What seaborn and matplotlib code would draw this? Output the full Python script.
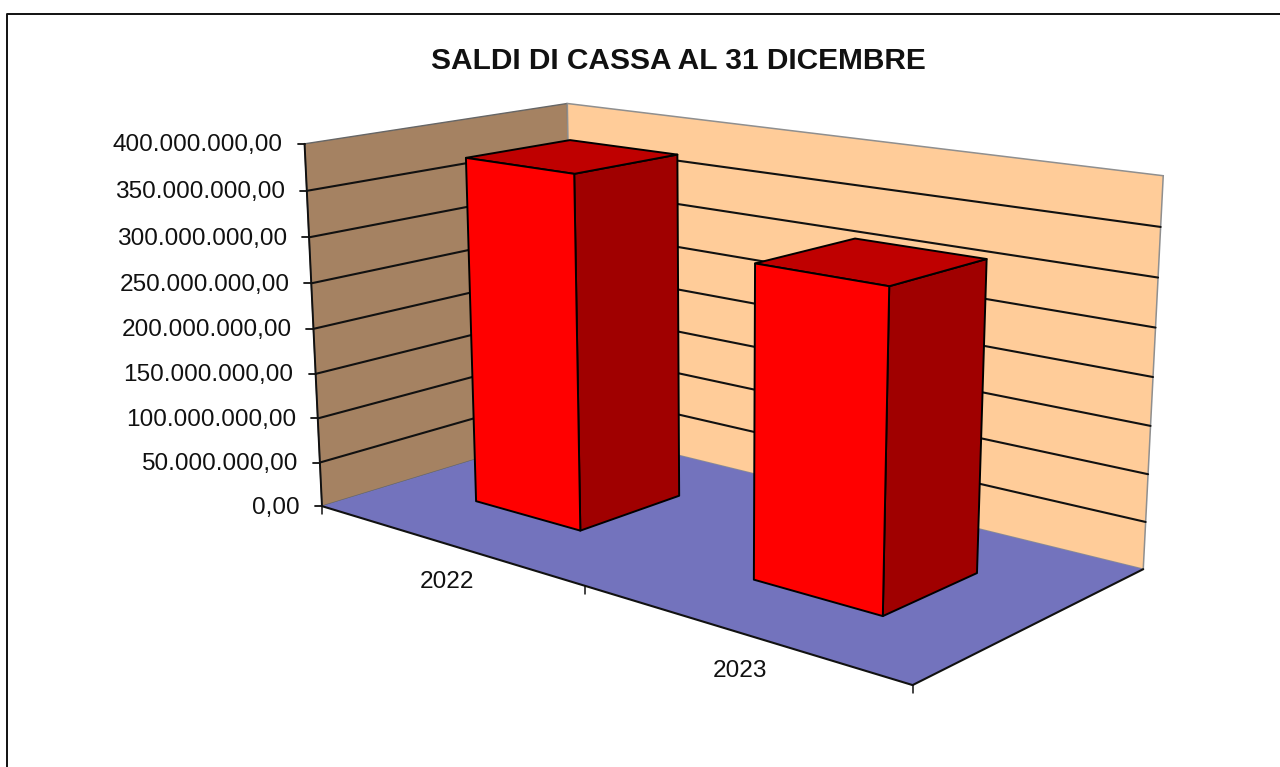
import numpy as np
import pandas as pd
import matplotlib
matplotlib.use("Agg")
import matplotlib.pyplot as plt
from matplotlib.patches import Polygon
import seaborn as sns

TITLE = "SALDI DI CASSA AL 31 DICEMBRE"
years = ["2022", "2023"]
saldi = [382000000, 321000000]
value_ticks = [0, 50000000, 100000000, 150000000, 200000000,
               250000000, 300000000, 350000000, 400000000]
value_labels = ["0,00", "50.000.000,00", "100.000.000,00", "150.000.000,00",
                "200.000.000,00", "250.000.000,00", "300.000.000,00",
                "350.000.000,00", "400.000.000,00"]

C_LEFT, C_BACK, C_FLOOR = "#A58262", "#FFCC99", "#7373BD"
C_FRONT, C_SIDE, C_TOP = "#FF0000", "#A00000", "#BF0000"

sns.set_theme(style="white")
plt.rcParams["font.family"] = ["Liberation Sans", "DejaVu Sans"]

W, H = 1280, 767
fig = plt.figure(figsize=(W / 100, H / 100), dpi=100, facecolor="white")

# Hidden axes: seaborn computes the bars from the data
df = pd.DataFrame({"anno": years, "saldo": saldi})
ax_data = fig.add_axes([0, 0, 1, 1])
sns.barplot(data=df, x="anno", y="saldo", width=0.4, ax=ax_data)
ax_data.set_xlim(-0.5, len(years) - 0.5)
ax_data.set_ylim(value_ticks[0], value_ticks[-1])
ax_data.set_visible(False)

# Perspective camera calibrated on the plot box (x, height, depth in 0..1)
box_corners = [((0, 0, 0), (323, 507)), ((0, 1, 0), (304, 143)), ((0, 1, 1), (568, 104)),
               ((0, 0, 1), (572, 429)), ((1, 1, 1), (1163, 176)), ((1, 0, 1), (1144, 569)),
               ((1, 0, 0), (912, 685))]
rows = []
for (x, y, z), (u, v) in box_corners:
    rows.append([x, y, z, 1, 0, 0, 0, 0, -u * x, -u * y, -u * z, -u])
    rows.append([0, 0, 0, 0, x, y, z, 1, -v * x, -v * y, -v * z, -v])
P = np.linalg.svd(np.array(rows, float))[2][-1].reshape(3, 4)


def pr(x, y, z):
    h = P @ np.array([x, y, z, 1.0])
    return h[:2] / h[2]


def quad(a, b, c, d, **kw):
    ax.add_patch(Polygon([pr(*a), pr(*b), pr(*c), pr(*d)], closed=True, **kw))


def seg(a, b, **kw):
    pa, pb = pr(*a), pr(*b)
    ax.plot([pa[0], pb[0]], [pa[1], pb[1]], solid_capstyle="round", **kw)


ax = fig.add_axes([0, 0, 1, 1])
ax.set_xlim(0, W)
ax.set_ylim(H, 0)
ax.axis("off")

# chart frame
ax.plot([W + 5, 7, 7], [13.5, 13.5, H + 5], color="#111111", lw=1.4, clip_on=False)

vmax = value_ticks[-1]
# walls and floor
quad((0, 0, 0), (0, 1, 0), (0, 1, 1), (0, 0, 1), fc=C_LEFT, ec="#666666", lw=1.0, zorder=1)
quad((0, 0, 1), (0, 1, 1), (1, 1, 1), (1, 0, 1), fc=C_BACK, ec="#8f8f8f", lw=1.1, zorder=1)
quad((0, 0, 0), (1, 0, 0), (1, 0, 1), (0, 0, 1), fc=C_FLOOR, ec="none", zorder=2)

# gridlines and value axis
for v, lab in zip(value_ticks, value_labels):
    y = v / vmax
    if 0 < v < vmax:
        seg((0, y, 0), (0, y, 1), color="#111111", lw=1.5, zorder=3)
        seg((0, y, 1), (1, y, 1), color="#111111", lw=1.5, zorder=3)
    px, py = pr(0, y, 0)
    ax.plot([px - 7, px], [py, py], color="#111111", lw=1.3, zorder=3)
    ax.text(px - 22, py + 1.5, lab, ha="right", va="center", fontsize=17.6, color="#111111")
seg((0, 0, 0), (0, 1, 0), color="#111111", lw=1.4, zorder=4)
seg((0, 0, 0), (1, 0, 0), color="#111111", lw=1.5, zorder=4)
seg((1, 0, 0), (1, 0, 1), color="#111111", lw=1.5, zorder=4)

# category axis
n = len(years)
for i in range(n + 1):
    px, py = pr(i / n, 0, 0)
    ax.plot([px, px], [py, py + 8], color="#111111", lw=1.1, zorder=4)
for i, lab in enumerate(years):
    px, py = pr((i + 0.5) / n, 0, 0)
    ax.text(px + 1, py + 38, lab, ha="center", va="center", fontsize=17.6, color="#111111")

# bars, taken from the seaborn rectangles and projected
z0, z1 = 0.305, 0.705
shift = -0.003
line = dict(ec="#000000", lw=1.4, joinstyle="round", zorder=6)
for bar in ax_data.patches:
    x0 = (bar.get_x() + 0.5) / n + shift
    x1 = (bar.get_x() + bar.get_width() + 0.5) / n + shift
    y1 = bar.get_height() / vmax
    quad((x1, 0, z0), (x1, y1, z0), (x1, y1, z1), (x1, 0, z1), fc=C_SIDE, **line)
    quad((x0, y1, z0), (x1, y1, z0), (x1, y1, z1), (x0, y1, z1), fc=C_TOP, **line)
    quad((x0, 0, z0), (x1, 0, z0), (x1, y1, z0), (x0, y1, z0), fc=C_FRONT, **line)

ax.text(678.5, 61, TITLE, ha="center", va="center", fontsize=21.5, fontweight="bold", color="#111111")

fig.savefig("out.png", dpi=100)
